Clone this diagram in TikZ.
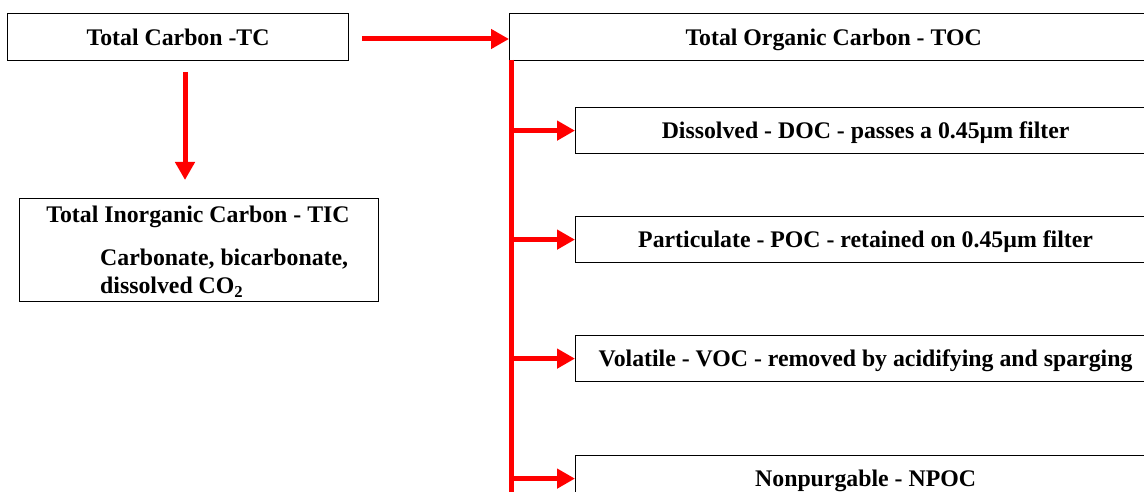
\documentclass[tikz,border=0pt]{standalone}
\usepackage{fontspec}
\setmainfont{Liberation Serif}
\usetikzlibrary{arrows.meta}
\begin{document}
\begin{tikzpicture}[x=1pt,y=-1pt,
  box/.style={draw=black,line width=1.2pt,fill=white,inner sep=0pt,anchor=north west,text depth=0pt,
    font=\fontsize{23.8}{28}\selectfont\bfseries},
  txt/.style={inner sep=0pt,font=\fontsize{23.8}{28}\selectfont\bfseries},
  arr/.style={draw=red,line width=5pt,-{Triangle[length=18pt,width=19pt]}},
  spine/.style={draw=red,line width=5pt}]
\useasboundingbox (0,0) rectangle (1144,492);
\clip (0,0) rectangle (1144,492);
\node[box,minimum width=341pt,minimum height=47pt] (tc) at (7,13) {Total Carbon -TC};
\node[box,minimum width=648pt,minimum height=47pt] (toc) at (509,13) {Total Organic Carbon - TOC};
\node[box,minimum width=359pt,minimum height=103pt] (tic) at (19,198) {};
\node[txt] (ticT) at (198,217) {Total Inorganic Carbon - TIC};
\node[txt,anchor=west] (ticA) at (100,259) {Carbonate, bicarbonate,};
\node[txt,anchor=west] (ticB) at (100,287) {dissolved CO\textsubscript{2}};
\node[box,minimum width=580pt,minimum height=46pt] (doc) at (575,107) {Dissolved - DOC - passes a 0.45µm filter};
\node[box,minimum width=580pt,minimum height=46pt] (poc) at (575,216) {Particulate - POC - retained on 0.45µm filter};
\node[box,minimum width=580pt,minimum height=46pt] (voc) at (575,335) {Volatile - VOC - removed by acidifying and sparging};
\node[box,minimum width=580pt,minimum height=46pt] (npoc) at (575,455) {Nonpurgable - NPOC};
\coordinate (tcR) at (362,39);
\coordinate (tcD) at (185,72);
\coordinate (ticTop) at (185,180);
\coordinate (sTop) at (511,60);
\coordinate (sBot) at (511,492);
\draw[arr] (tcR) -- (toc.west |- tcR);
\draw[arr] (tcD) -- (ticTop);
\draw[spine] (sTop) -- (sBot);
\draw[arr] (sTop |- doc.west) -- (doc.west);
\draw[arr] (sTop |- poc.west) -- (poc.west);
\draw[arr] (sTop |- voc.west) -- (voc.west);
\draw[arr] (sTop |- npoc.west) -- (npoc.west);
\end{tikzpicture}
\end{document}
